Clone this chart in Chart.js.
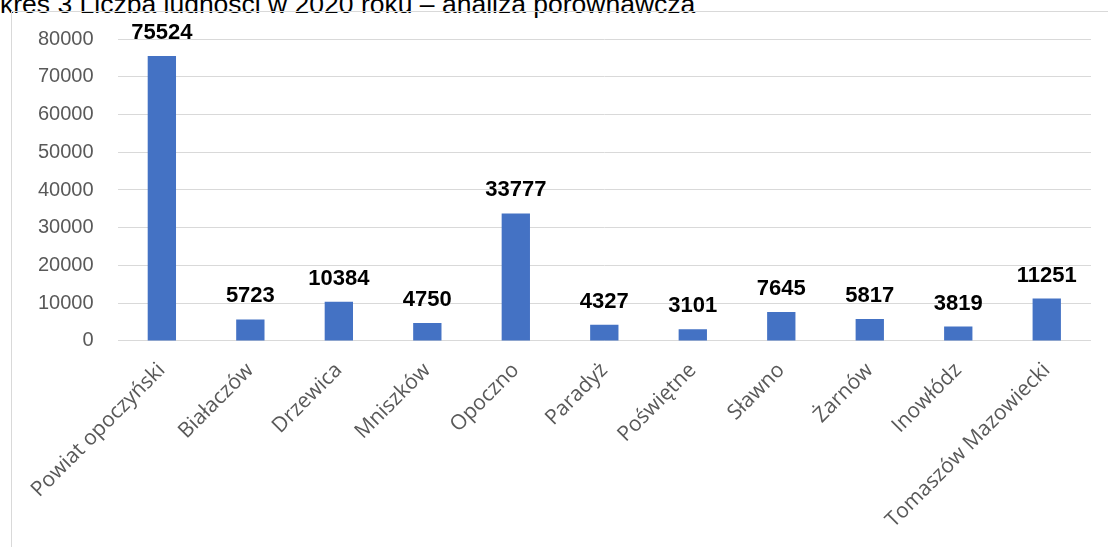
<!DOCTYPE html>
<html>
<head>
<meta charset="utf-8">
<script src="https://cdn.jsdelivr.net/npm/chart.js@4"></script>
<style>
  html, body { margin: 0; padding: 0; background: #fff; }
  body { width: 1108px; height: 547px; position: relative; overflow: hidden; }
  #title {
    position: absolute; left: -38px; top: -11px; white-space: nowrap; line-height: 30px;
    font-family: "Liberation Sans", Arial, sans-serif; font-size: 26.5px; color: #000;
  }
  #frame {
    position: absolute; left: 11px; top: 11px; width: 1097px; height: 536px;
    border-left: 1px solid #d9d9d9; border-top: 1px solid #d9d9d9; box-sizing: border-box;
  }
</style>
</head>
<body>
<div id="title">Wykres 3 Liczba ludności w 2020 roku – analiza porównawcza</div>
<div id="frame"><canvas id="pop-chart"></canvas></div>
<script>
var gminy = ['Powiat opoczyński', 'Białaczów', 'Drzewica', 'Mniszków', 'Opoczno', 'Paradyż',
             'Poświętne', 'Sławno', 'Żarnów', 'Inowłódz', 'Tomaszów Mazowiecki'];
var ludnosc = [75524, 5723, 10384, 4750, 33777, 4327, 3101, 7645, 5817, 3819, 11251];
var yTicks = [0, 10000, 20000, 30000, 40000, 50000, 60000, 70000, 80000];

// values printed over each bar
const barLabels = {
  id: 'barLabels',
  afterDatasetsDraw(chart) {
    const ctx = chart.ctx;
    const meta = chart.getDatasetMeta(0);
    ctx.save();
    ctx.font = 'bold 22px "Liberation Sans", Arial, sans-serif';
    ctx.fillStyle = '#000';
    ctx.textAlign = 'center';
    ctx.textBaseline = 'alphabetic';
    meta.data.forEach(function (bar, i) {
      ctx.fillText(String(chart.data.datasets[0].data[i]), bar.x, bar.y - 17);
    });
    ctx.restore();
  }
};

function popChart(id) {
  const ctx = document.getElementById(id);
  return new Chart(ctx, {
    type: 'bar',
    data: {
      labels: gminy,
      datasets: [{
        data: ludnosc,
        backgroundColor: '#4472C4',
        categoryPercentage: 1,
        barPercentage: 0.32
      }]
    },
    options: {
      responsive: true,
      maintainAspectRatio: false,
      animation: false,
      layout: { padding: { left: 22, right: 17, top: 27, bottom: 5 } },
      scales: {
        x: {
          grid: { display: false },
          border: { display: false },
          ticks: {
            minRotation: 45,
            maxRotation: 45,
            padding: 9,
            color: '#595959',
            font: { family: '"Open Sans", sans-serif', size: 21 }
          }
        },
        y: {
          min: 0,
          max: 80000,
          afterBuildTicks: function (axis) {
            axis.ticks = yTicks.map(function (v) { return { value: v }; });
          },
          // invisible tick marks give the gap between labels and plot
          grid: { color: '#d9d9d9', lineWidth: 1, drawTicks: true, tickLength: 20, tickColor: 'rgba(0,0,0,0)' },
          border: { display: false },
          ticks: {
            padding: 4,
            color: '#595959',
            font: { family: '"Liberation Sans", Arial, sans-serif', size: 20 },
            callback: function (v) { return String(v); }
          }
        }
      },
      plugins: {
        legend: { display: false },
        tooltip: { enabled: false }
      }
    },
    plugins: [barLabels]
  });
}

popChart('pop-chart');
</script>
</body>
</html>
